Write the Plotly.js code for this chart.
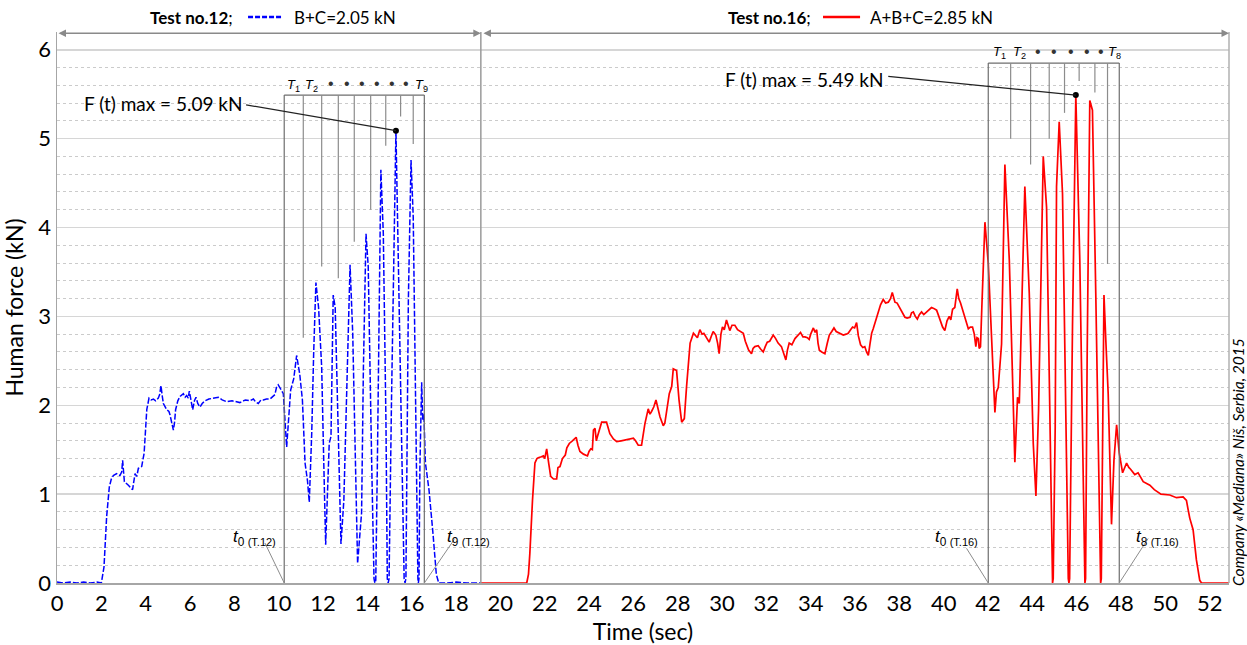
<!DOCTYPE html>
<html>
<head>
<meta charset="utf-8">
<script src="https://cdn.plot.ly/plotly-3.0.1.min.js"></script>
<style>html,body{margin:0;padding:0;background:#fff;}#chart{width:1247px;height:645px;}</style>
</head>
<body>
<div id="chart"></div>
<script>
// ---- Test no.12 (B+C = 2.05 kN), blue dashed ----
const blueT = [0.0,0.3,0.6,0.9,1.2,1.5,1.8,2.0,2.12,2.24,2.36,2.45,2.54,2.69,2.84,2.92,2.96,3.04,3.22,3.41,3.47,3.52,3.6,3.67,3.82,3.93,4.05,4.15,4.25,4.35,4.45,4.57,4.63,4.69,4.75,4.8,4.95,5.05,5.1,5.18,5.25,5.3,5.35,5.45,5.55,5.7,5.78,5.85,5.92,5.97,6.05,6.12,6.2,6.27,6.35,6.45,6.55,6.68,6.85,7.05,7.28,7.45,7.65,7.9,8.25,8.5,8.7,8.86,8.95,9.08,9.2,9.31,9.45,9.61,9.75,9.83,9.9,9.98,10.1,10.21,10.36,10.45,10.54,10.68,10.81,10.95,11.07,11.19,11.3,11.38,11.49,11.58,11.68,11.8,11.94,12.03,12.12,12.2,12.28,12.36,12.46,12.55,12.68,12.81,12.94,13.08,13.22,13.34,13.45,13.56,13.74,13.82,13.94,14.04,14.2,14.3,14.34,14.38,14.45,14.61,14.72,14.84,14.9,14.94,14.98,15.09,15.29,15.46,15.66,15.7,15.74,15.85,15.97,16.07,16.22,16.28,16.30,16.33,16.37,16.45,16.5,16.55,16.62,16.78,16.96,17.11,17.22,17.6,18.0,18.5,19.12];
const blueF = [0.01,0.0,0.01,0.0,0.01,0.0,0.01,0.0,0.18,0.75,1.08,1.17,1.21,1.23,1.21,1.25,1.38,1.14,1.10,1.05,1.15,1.23,1.2,1.29,1.31,1.46,1.95,2.08,2.06,2.07,2.05,2.08,2.12,2.22,2.1,2.02,1.95,1.93,1.89,1.78,1.72,1.8,1.95,2.05,2.1,2.13,2.09,2.11,2.08,2.16,2.02,1.95,2.05,2.09,2.02,1.98,2.02,2.05,2.07,2.08,2.09,2.06,2.04,2.05,2.03,2.06,2.05,2.07,2.04,2.02,2.06,2.06,2.07,2.07,2.1,2.12,2.2,2.23,2.18,2.13,1.53,1.9,2.17,2.3,2.56,2.35,2.06,1.35,1.15,0.91,1.68,2.6,3.38,3.1,2.43,1.4,0.43,1.0,1.57,1.65,3.24,3.1,1.68,0.44,0.93,2.3,3.58,2.81,1.4,0.22,0.79,2.39,3.93,3.56,1.3,0.05,0.0,0.03,1.3,4.65,3.93,1.8,0.05,0.0,0.05,2.06,5.09,2.81,0.05,0.0,0.05,3.18,4.76,4.12,0.93,0.05,0.0,0.05,1.3,2.26,1.83,1.9,1.35,1.05,0.56,0.1,0.0,0.0,0.01,0.0,0.0];

// ---- Test no.16 (A+B+C = 2.85 kN), red solid ----
const redT = [19.12,21.19,21.27,21.33,21.45,21.56,21.65,21.71,21.85,21.94,22.0,22.09,22.18,22.27,22.4,22.54,22.6,22.69,22.8,22.93,23.0,23.11,23.25,23.42,23.5,23.59,23.75,23.93,24.0,24.08,24.15,24.2,24.27,24.33,24.37,24.45,24.57,24.79,24.94,25.1,25.25,25.45,25.7,26.0,26.1,26.22,26.37,26.45,26.52,26.67,26.75,26.82,26.92,27.02,27.1,27.2,27.35,27.42,27.5,27.62,27.73,27.8,27.95,28.06,28.18,28.3,28.4,28.56,28.71,28.8,28.89,29.0,29.1,29.18,29.3,29.42,29.52,29.6,29.72,29.8,29.87,29.95,30.02,30.1,30.2,30.28,30.35,30.45,30.58,30.7,30.78,30.96,31.05,31.11,31.2,31.33,31.4,31.48,31.63,31.75,31.86,31.95,32.04,32.15,32.31,32.42,32.53,32.68,32.8,32.88,32.95,33.03,33.15,33.29,33.4,33.54,33.65,33.74,33.85,33.93,34.0,34.12,34.2,34.27,34.33,34.39,34.5,34.64,34.75,34.84,34.95,35.05,35.15,35.24,35.35,35.47,35.6,35.69,35.8,35.89,35.98,36.07,36.15,36.25,36.35,36.44,36.52,36.6,36.68,36.75,36.82,36.9,37.05,37.15,37.27,37.38,37.5,37.6,37.68,37.75,37.8,37.9,38.02,38.12,38.25,38.35,38.48,38.55,38.63,38.72,38.81,38.9,39.0,39.1,39.23,39.35,39.45,39.55,39.68,39.78,39.86,39.95,40.05,40.15,40.25,40.32,40.4,40.5,40.61,40.68,40.76,40.85,40.91,41.0,41.11,41.2,41.3,41.38,41.45,41.5,41.56,41.6,41.66,41.72,41.86,42.01,42.16,42.31,42.38,42.46,42.61,42.76,42.96,43.09,43.21,43.33,43.41,43.66,43.86,44.04,44.16,44.28,44.49,44.64,44.79,44.88,44.91,44.94,45.03,45.09,45.21,45.36,45.51,45.62,45.65,45.68,45.81,45.96,46.14,46.34,46.37,46.40,46.47,46.59,46.71,46.86,47.05,47.08,47.11,47.17,47.23,47.32,47.42,47.57,47.68,47.8,47.92,48.07,48.17,48.25,48.35,48.43,48.62,48.77,49.0,49.3,49.5,49.8,50.2,50.5,50.8,50.95,51.03,51.1,51.25,51.4,51.55,51.63,52.87];
const redF = [0,0,0.1,0.33,0.93,1.35,1.4,1.41,1.42,1.43,1.4,1.51,1.35,1.2,1.17,1.17,1.3,1.31,1.4,1.44,1.52,1.57,1.6,1.64,1.55,1.48,1.45,1.43,1.48,1.51,1.5,1.72,1.74,1.6,1.64,1.72,1.81,1.81,1.68,1.62,1.59,1.6,1.61,1.63,1.6,1.55,1.55,1.7,1.79,1.96,1.9,1.93,1.98,2.06,1.98,1.87,1.77,1.8,1.93,2.13,2.21,2.41,2.39,2.06,1.81,1.85,2.21,2.7,2.81,2.78,2.76,2.85,2.8,2.81,2.76,2.71,2.78,2.83,2.79,2.7,2.58,2.8,2.88,2.85,2.96,2.88,2.84,2.9,2.9,2.85,2.84,2.81,2.72,2.68,2.62,2.58,2.64,2.66,2.67,2.63,2.6,2.66,2.71,2.72,2.79,2.75,2.7,2.66,2.58,2.51,2.62,2.7,2.68,2.75,2.78,2.82,2.77,2.77,2.76,2.74,2.8,2.87,2.82,2.85,2.7,2.62,2.6,2.58,2.7,2.79,2.83,2.87,2.83,2.82,2.8,2.79,2.8,2.81,2.85,2.88,2.87,2.93,2.78,2.68,2.65,2.66,2.6,2.56,2.7,2.81,2.86,2.92,3.03,3.13,3.19,3.15,3.16,3.2,3.27,3.2,3.16,3.15,3.1,3.05,2.99,2.98,2.99,3.04,3.05,3.0,2.97,3.02,3.05,3.02,3.05,3.08,3.1,3.09,3.07,3.0,2.94,2.88,2.84,2.95,3.0,2.96,3.08,3.1,3.31,3.2,3.15,3.08,3.03,2.95,2.86,2.88,2.88,2.8,2.66,2.76,2.75,2.64,2.66,3.1,4.06,3.6,2.69,1.92,2.15,2.2,2.69,4.71,3.63,2.51,1.36,2.09,2.02,4.46,3.26,1.57,0.98,1.95,4.8,4.23,1.76,0.05,0.0,0.05,1.76,4.46,5.19,4.38,1.76,0.05,0.0,0.05,2.89,5.49,3.63,0.05,0.0,0.05,2.51,5.43,5.32,3.26,0.05,0.0,0.05,2.13,3.24,2.69,2.13,0.66,1.38,1.78,1.46,1.24,1.3,1.35,1.3,1.28,1.22,1.24,1.14,1.1,1.05,1.0,0.99,0.96,0.97,0.93,0.82,0.73,0.6,0.26,0.03,0.0,0.0];

// Maximum force points
const maxT = [15.29, 45.96];
const maxF = [5.09, 5.49];
const maxLabels = ["F (t) max = 5.09 kN", "F (t) max = 5.49 kN"];

// Test windows (t0 .. tn) and period marks
const win12 = [10.25, 16.57];
const win16 = [42.01, 47.92];
const sepT = 19.12;
const marks12T = [11.11, 11.94, 12.69, 13.41, 14.15, 14.83, 15.50, 16.07];
const marks12F = [2.76, 3.56, 3.43, 3.84, 4.20, 4.92, 5.25, 4.94];
const marks16T = [43.02, 43.92, 44.76, 45.45, 46.11, 46.82, 47.39];
const marks16F = [5.00, 4.71, 5.00, 5.29, 5.65, 5.52, 3.59];
const box12Top = 5.49, box16Top = 5.85;

const XMAX = 52.87, YMAX = 6.2;
const FONT = "Lato, 'Open Sans', sans-serif";
const AFONT = "'Liberation Sans', Arial, sans-serif";

const traces = [
  {x: blueT, y: blueF, mode: 'lines', line: {color: '#0000ff', width: 1.5, dash: '6px,2px'}, cliponaxis: false, hoverinfo: 'skip'},
  {x: redT, y: redF, mode: 'lines', line: {color: '#ff0000', width: 1.7}, cliponaxis: false, hoverinfo: 'skip'},
  {x: maxT, y: maxF, mode: 'markers', marker: {color: '#000', size: 6}, cliponaxis: false, hoverinfo: 'skip'}
];

const gray = '#6e6e6e', lgray = '#8c8c8c';
const shapes = [];
function ln(x0, y0, x1, y1, color, width, xref, yref) {
  shapes.push({type: 'line', xref: xref || 'x', yref: yref || 'y', x0, y0, x1, y1, line: {color, width}, layer: 'above'});
}
// separator and right border
ln(sepT, 0, sepT, 1, '#9a9a9a', 1.5, 'x', 'paper');
ln(1, 0, 1, 1, '#b0b0b0', 1.5, 'paper', 'paper');
// boxes
[[win12, box12Top], [win16, box16Top]].forEach(([w, top]) => {
  ln(w[0], 0, w[0], top, gray, 1.2);
  ln(w[1], 0, w[1], top, gray, 1.2);
  ln(w[0], top, w[1], top, gray, 1.2);
});
marks12T.forEach((t, i) => ln(t, box12Top, t, marks12F[i], lgray, 1.2));
marks16T.forEach((t, i) => ln(t, box16Top, t, marks16F[i], lgray, 1.2));
// leader lines for t labels
ln(9.38, 0.45, win12[0], 0, lgray, 1);
ln(17.92, 0.49, win12[1], 0, lgray, 1);
ln(41.03, 0.39, win16[0], 0, lgray, 1);
ln(49.22, 0.50, win16[1], 0, lgray, 1);
// leader lines for max labels
ln(8.53, 5.38, maxT[0], maxF[0], '#222', 1.2);
ln(37.5, 5.70, maxT[1], maxF[1], '#222', 1.2);
// legend samples in header
shapes.push({type: 'line', xref: 'paper', yref: 'paper', x0: 0.163, x1: 0.1928, y0: 1.0272, y1: 1.0272, line: {color: '#0000ff', width: 2.5, dash: '5px,2px'}});
shapes.push({type: 'line', xref: 'paper', yref: 'paper', x0: 0.6536, x1: 0.6852, y0: 1.0272, y1: 1.0272, line: {color: '#ff0000', width: 2.5}});

const ann = [];
function txt(x, y, text, opts) {
  ann.push(Object.assign({x, y, text, xref: 'x', yref: 'y', showarrow: false, xanchor: 'center', yanchor: 'middle',
    font: {family: FONT, size: 16, color: '#000'}}, opts || {}));
}
// header
const hf = {family: FONT, size: 17, color: '#000'};
txt(0.0776, 1.0272, '<b>Test no.12</b>;', {xref: 'paper', yref: 'paper', xanchor: 'left', font: hf});
txt(0.2005, 1.0272, 'B+C=2.05 kN', {xref: 'paper', yref: 'paper', xanchor: 'left', font: hf});
txt(0.5708, 1.0272, '<b>Test no.16</b>;', {xref: 'paper', yref: 'paper', xanchor: 'left', font: hf});
txt(0.692, 1.0272, 'A+B+C=2.85 kN', {xref: 'paper', yref: 'paper', xanchor: 'left', font: hf});
// double arrows
[[0, sepT], [sepT + 0.05, XMAX]].forEach(([a, b]) => {
  ann.push({x: b, y: 6.187, ax: a, ay: 6.187, xref: 'x', yref: 'y', axref: 'x', ayref: 'y', text: '', showarrow: true,
    arrowhead: 2, arrowside: 'end+start', arrowsize: 1, arrowwidth: 1.5, arrowcolor: '#8a8a8a'});
});
// max labels
const mf = {family: FONT, size: 19, color: '#000'};
txt(8.45, 5.39, maxLabels[0], {xanchor: 'right', font: mf});
txt(37.35, 5.67, maxLabels[1], {xanchor: 'right', font: mf});
// T labels
const tf = {family: AFONT, size: 13, color: '#000'};
const df = {family: AFONT, size: 16, color: '#333'};
txt(10.69, 5.6, '<i>T</i><sub>1</sub>', {font: tf});
txt(11.46, 5.6, '<i>T</i><sub>2</sub>', {font: tf});
[12.35, 13.07, 13.77, 14.45, 15.12, 15.73].forEach(t => txt(t, 5.62, '•', {font: df}));
txt(16.45, 5.6, '<i>T</i><sub>9</sub>', {font: tf});
txt(42.53, 5.965, '<i>T</i><sub>1</sub>', {font: tf});
txt(43.44, 5.965, '<i>T</i><sub>2</sub>', {font: tf});
[44.24, 44.98, 45.74, 46.45, 47.09].forEach(t => txt(t, 5.985, '•', {font: df}));
txt(47.72, 5.965, '<i>T</i><sub>8</sub>', {font: tf});
// t labels
const sf = "<span style='font-size:11px'>";
const lf = {family: AFONT, size: 17, color: '#000'};
txt(8.89, 0.506, '<i>t</i><sub>0 ' + sf + '(T.12)</span></sub>', {font: lf});
txt(18.58, 0.506, '<i>t</i><sub>9 ' + sf + '(T.12)</span></sub>', {font: lf});
txt(40.57, 0.506, '<i>t</i><sub>0 ' + sf + '(T.16)</span></sub>', {font: lf});
txt(49.63, 0.506, '<i>t</i><sub>8 ' + sf + '(T.16)</span></sub>', {font: lf});
// copyright
txt(1.0077, 0.2196, '<i>Company «Mediana» Niš, Serbia, 2015</i>', {xref: 'paper', yref: 'paper', textangle: -90, borderpad: 0, font: {family: FONT, size: 15.5, color: '#000'}});

const layout = {
  width: 1247, height: 645,
  margin: {l: 57, r: 18, t: 32, b: 62},
  paper_bgcolor: '#fff', plot_bgcolor: '#fff',
  showlegend: false,
  font: {family: FONT, color: '#000'},
  xaxis: {range: [0, XMAX], tick0: 0, dtick: 2, showgrid: false, zeroline: false, showline: true, linecolor: '#a6a6a6', linewidth: 1.5,
    ticks: '', tickfont: {family: FONT, size: 22, color: '#000'}, title: {text: 'Time (sec)', font: {family: FONT, size: 23, color: '#000'}, standoff: 10}},
  yaxis: {range: [0, YMAX], tick0: 0, dtick: 1, showgrid: true, gridcolor: '#d6d6d6', gridwidth: 1.5, zeroline: false, showline: true, linecolor: '#a6a6a6', linewidth: 1.5,
    ticks: '', tickfont: {family: FONT, size: 22, color: '#000'},
    minor: {dtick: 0.2, showgrid: true, gridcolor: '#cbcbcb', griddash: '3px,3px', gridwidth: 1},
    title: {text: 'Human force (kN)', font: {family: FONT, size: 23, color: '#000'}, standoff: 8}},
  shapes: shapes,
  annotations: ann
};
Plotly.newPlot('chart', traces, layout, {staticPlot: true, displayModeBar: false});
</script>
</body>
</html>
